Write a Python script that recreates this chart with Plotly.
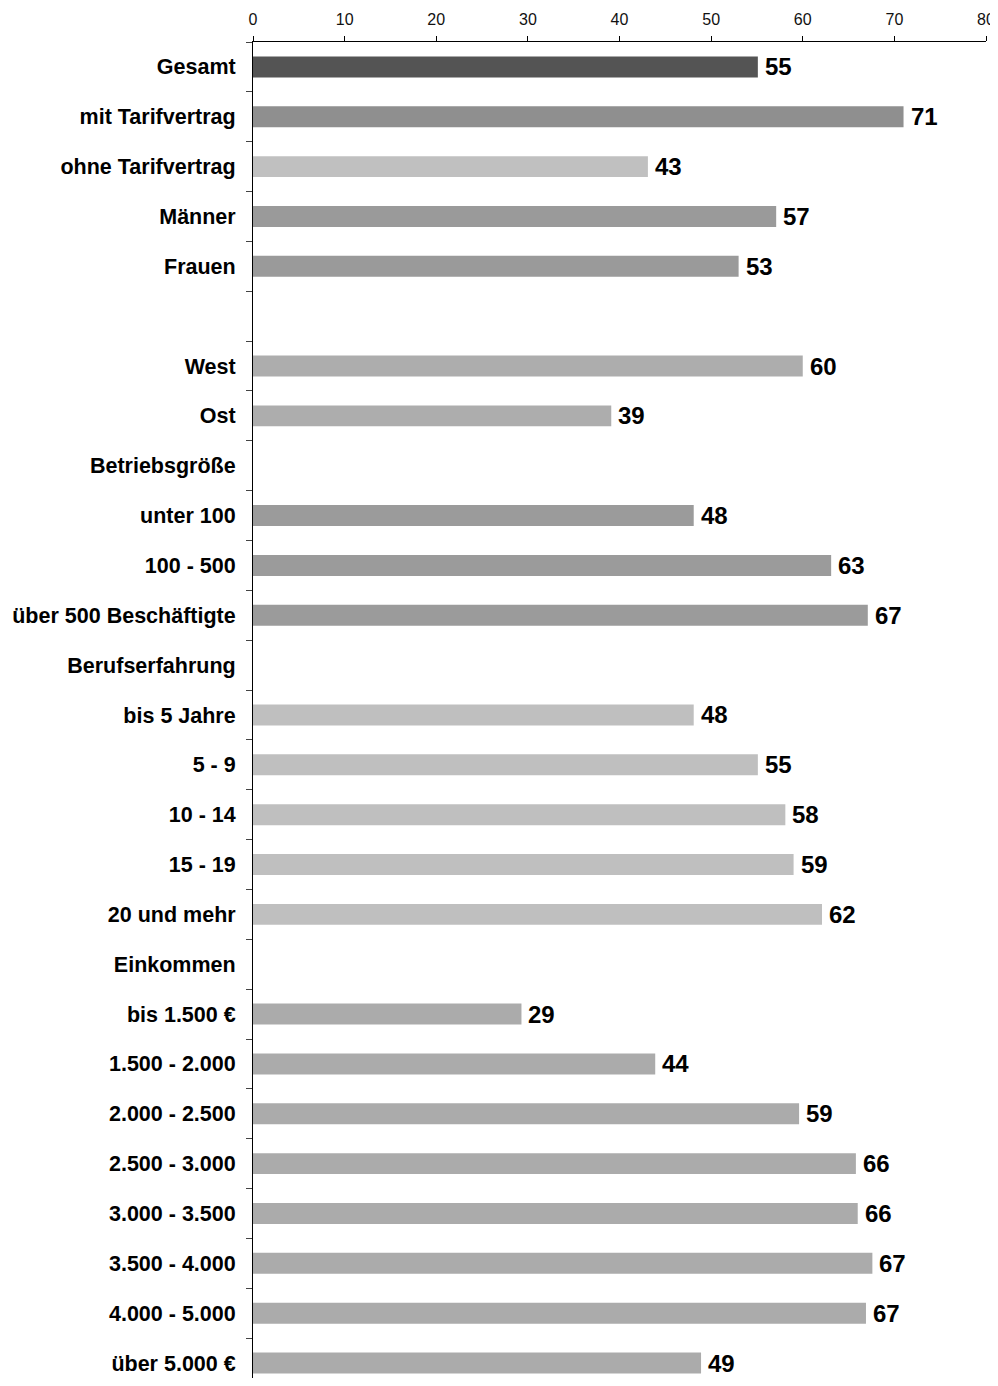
import plotly.graph_objects as go

categories = [
    "Gesamt", "mit Tarifvertrag", "ohne Tarifvertrag", "Männer", "Frauen", " ",
    "West", "Ost", "Betriebsgröße", "unter 100", "100 - 500", "über 500 Beschäftigte",
    "Berufserfahrung", "bis 5 Jahre", "5 - 9", "10 - 14", "15 - 19", "20 und mehr",
    "Einkommen", "bis 1.500 €", "1.500 - 2.000", "2.000 - 2.500", "2.500 - 3.000",
    "3.000 - 3.500", "3.500 - 4.000", "4.000 - 5.000", "über 5.000 €",
]
values = [
    55.1, 71.0, 43.1, 57.1, 53.0, None,
    60.0, 39.1, None, 48.1, 63.1, 67.1,
    None, 48.1, 55.1, 58.1, 59.0, 62.1,
    None, 29.3, 43.9, 59.6, 65.8, 66.0, 67.6, 66.9, 48.9,
]
labels = [
    "55", "71", "43", "57", "53", "",
    "60", "39", "", "48", "63", "67",
    "", "48", "55", "58", "59", "62",
    "", "29", "44", "59", "66", "66", "67", "67", "49",
]
colors = [
    "#545454", "#8f8f8f", "#c0c0c0", "#9a9a9a", "#9a9a9a", "#ffffff",
    "#adadad", "#adadad", "#ffffff", "#9b9b9b", "#9b9b9b", "#9b9b9b",
    "#ffffff", "#bfbfbf", "#bfbfbf", "#bfbfbf", "#bfbfbf", "#bfbfbf",
    "#ffffff", "#ababab", "#ababab", "#ababab", "#ababab", "#ababab",
    "#ababab", "#ababab", "#ababab",
]
x_ticks = [0, 10, 20, 30, 40, 50, 60, 70, 80]

FONT = "Liberation Sans, Arial, sans-serif"

fig = go.Figure()
fig.add_trace(go.Bar(
    x=values, y=categories, orientation="h",
    marker=dict(color=colors, line=dict(width=0)),
    hoverinfo="skip",
))

for cat, val, lab in zip(categories, values, labels):
    if val is None or not lab:
        continue
    fig.add_annotation(
        x=val, y=cat, text=lab, showarrow=False,
        xanchor="left", yanchor="middle", xshift=5,
        font=dict(family=FONT, size=24, color="#000000", weight="bold"),
    )

# page body has an 8px default margin; keep the page within the window
fig.update_layout(
    width=990, height=1370,
    margin=dict(l=245, r=12, t=34, b=0),
    paper_bgcolor="white", plot_bgcolor="white",
    bargap=0.58, showlegend=False,
    font=dict(family=FONT, color="#000000"),
)
fig.update_xaxes(
    side="top", range=[0, 80], tickvals=x_ticks, automargin=False,
    showgrid=False, zeroline=False,
    showline=True, linecolor="#000000", linewidth=1,
    ticks="outside", ticklen=5, tickcolor="#000000",
    ticklabelstandoff=5,
    tickfont=dict(size=16, color="#111111"),
)
fig.update_yaxes(
    categoryorder="array", categoryarray=categories,
    range=[len(categories) - 0.7, -0.5],
    type="category", tickson="boundaries", automargin=False,
    showgrid=False, zeroline=False,
    showline=True, linecolor="#000000", linewidth=1,
    ticks="outside", ticklen=6, tickcolor="#444444",
    ticklabelstandoff=12,
    tickfont=dict(size=21.5, color="#000000", weight="bold"),
)

fig.write_html("out.html")
